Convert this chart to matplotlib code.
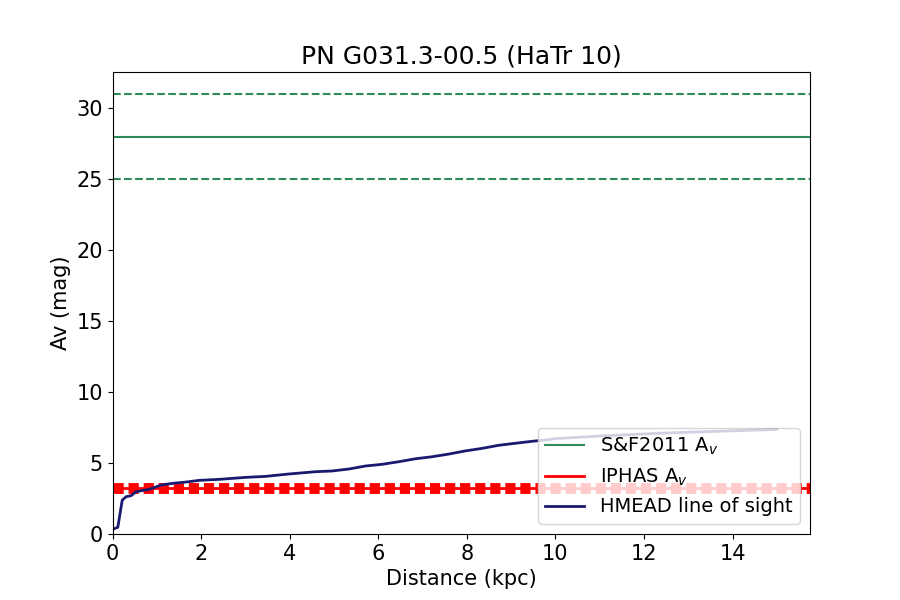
import matplotlib
matplotlib.use("Agg")
import matplotlib.pyplot as plt
import numpy as np

# HMEAD line of sight (distance in kpc, Av in mag)
dist = [0.0, 0.12, 0.22, 0.31, 0.42, 0.53, 0.83, 1.10, 1.36, 1.66, 1.96, 2.41,
        3.01, 3.46, 3.99, 4.59, 4.96, 5.34, 5.71, 6.09, 6.46, 6.84, 7.21, 7.59,
        7.96, 8.34, 8.72, 9.09, 9.47, 9.77, 10.0, 11.0, 12.0, 13.0, 14.0, 15.0]
av_los = [0.33, 0.47, 2.39, 2.63, 2.70, 2.98, 3.15, 3.45, 3.57, 3.66, 3.78, 3.85,
          3.99, 4.06, 4.23, 4.39, 4.44, 4.58, 4.79, 4.91, 5.09, 5.30, 5.44, 5.63,
          5.85, 6.03, 6.25, 6.39, 6.53, 6.62, 6.72, 6.90, 7.05, 7.17, 7.27, 7.37]

# Schlafly & Finkbeiner 2011 value and its range
sf_av, sf_lo, sf_hi = 28.0, 25.0, 31.0
# IPHAS value and its range
iphas_av, iphas_lo, iphas_hi = 3.25, 3.05, 3.45

title = "PN G031.3-00.5 (HaTr 10)"

fig, ax = plt.subplots(figsize=(9, 6), dpi=100)

ax.axhline(sf_av, color="seagreen", lw=1.5, label=r"S&F2011 A$_v$")
ax.axhline(sf_lo, color="seagreen", lw=1.5, ls="--")
ax.axhline(sf_hi, color="seagreen", lw=1.5, ls="--")

ax.axhline(iphas_av, color="red", lw=2, label=r"IPHAS A$_v$")
ax.axhline(iphas_lo, color="red", lw=3.5, ls=(0, (2.1, 1.0)))
ax.axhline(iphas_hi, color="red", lw=3.5, ls=(0, (2.1, 1.0)))

ax.plot(dist, av_los, color="midnightblue", lw=2, label="HMEAD line of sight")

ax.set_xlim(0, 15.75)
ax.set_ylim(0, 32.55)
ax.set_xlabel("Distance (kpc)", fontsize=15)
ax.set_ylabel("Av (mag)", fontsize=15)
ax.set_title(title, fontsize=18)
ax.tick_params(labelsize=15)
ax.legend(loc="lower right", fontsize=14)

fig.savefig("out.png", dpi=100)
